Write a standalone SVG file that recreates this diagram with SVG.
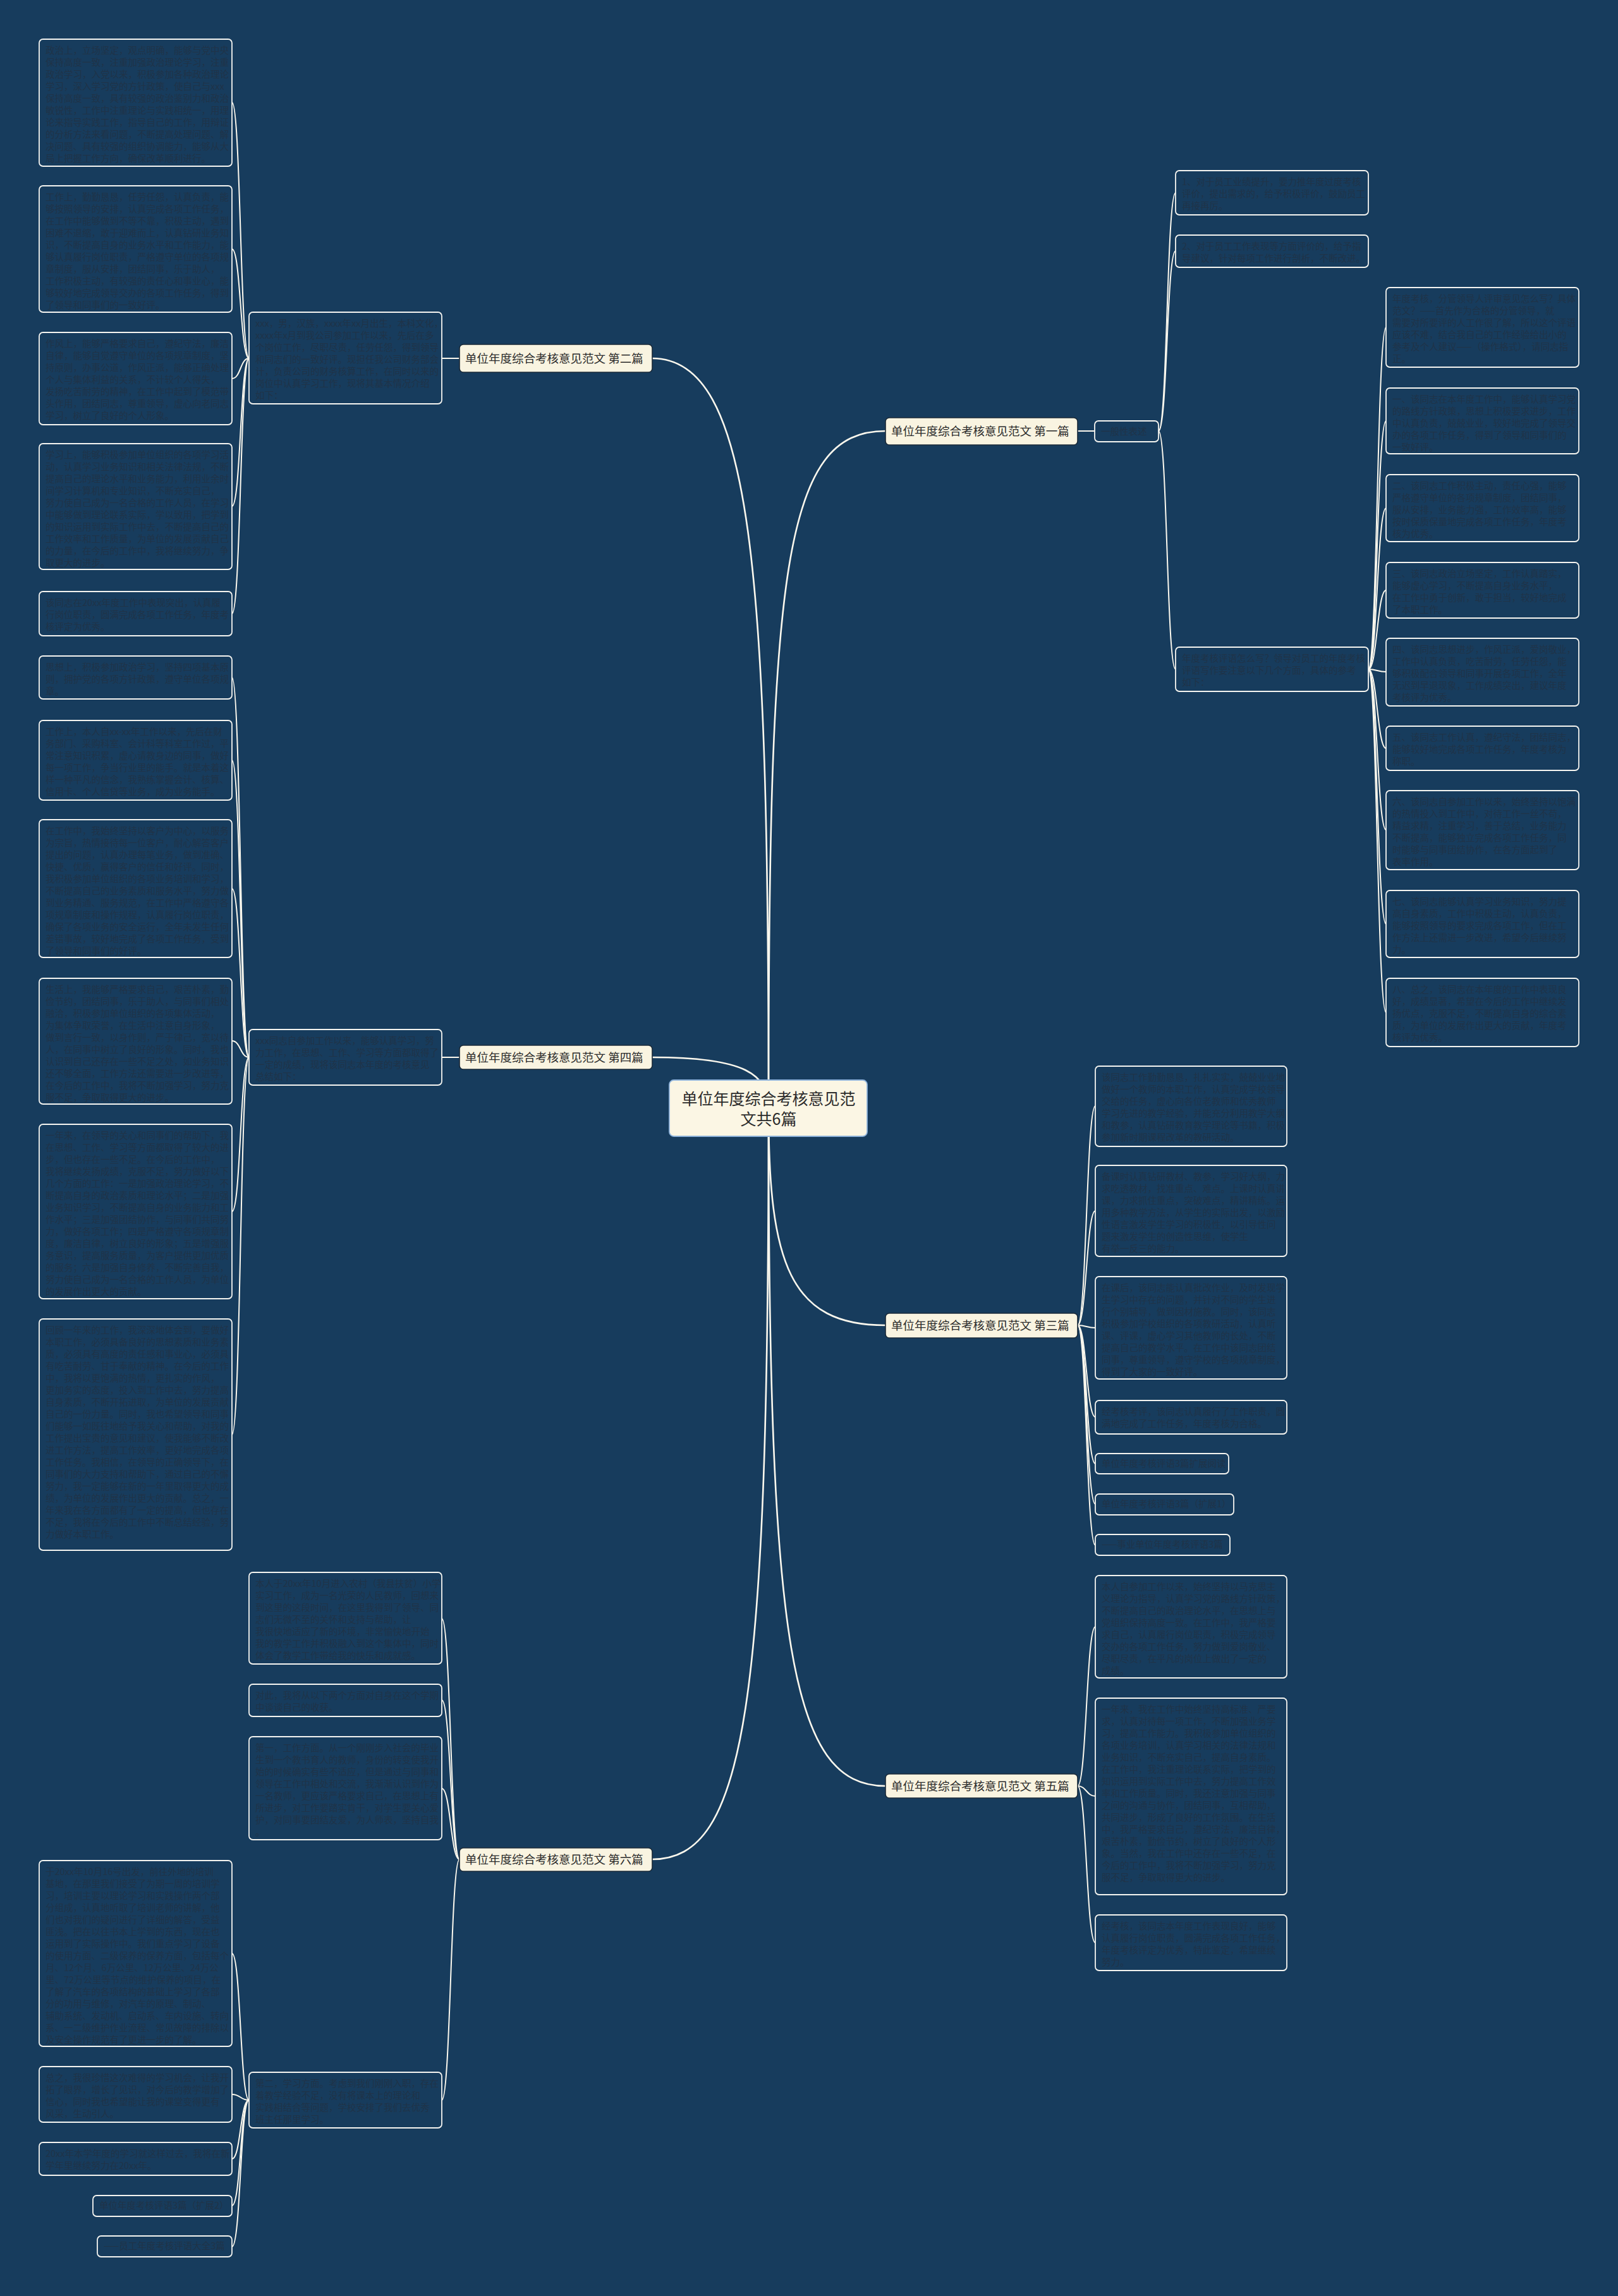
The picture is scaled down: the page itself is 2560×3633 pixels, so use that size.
<svg xmlns="http://www.w3.org/2000/svg" width="2560" height="3633" viewBox="0 0 2560 3633">
<style>
.bg{fill:#173c5d}
.lf{fill:#173c5d;stroke:#f4f4f0;stroke-width:1.8}
.lt{font-family:"Noto Sans CJK SC","Noto Sans",sans-serif;font-size:14.5px;fill:#1f3348}
.br{fill:#f9f4e1;stroke:#1b2a38;stroke-width:1.6}
.bt{font-family:"Noto Sans CJK SC","Noto Sans",sans-serif;font-size:18.5px;fill:#2b2b2b}
.ct{font-family:"Noto Sans CJK SC","Noto Sans",sans-serif;font-size:25px;fill:#2b2b2b;text-anchor:middle}
.mc{fill:none;stroke:#fbf8ee;stroke-width:2.6}
.sc{fill:none;stroke:#fbf8ee;stroke-width:2}
</style>
<rect class="bg" x="0" y="0" width="2560" height="3633"/>
<g id="connectors">
<path class="mc" d="M1216 1754 C1216 900,1190 567,1032 567"/>
<path class="mc" d="M1216 1754 C1216 1700,1180 1673,1032 1673"/>
<path class="mc" d="M1216 1754 C1216 2700,1180 2942,1032 2942"/>
<path class="mc" d="M1216 1754 C1216 900,1240 682,1401 682"/>
<path class="mc" d="M1216 1754 C1216 2000,1250 2097,1401 2097"/>
<path class="mc" d="M1216 1754 C1216 2600,1250 2826,1401 2826"/>
<path class="sc" d="M727 567 L699 567"/>
<path class="sc" d="M394 567 C380 567,381 162,367 162"/>
<path class="sc" d="M394 567 C380 567,381 394,367 394"/>
<path class="sc" d="M394 567 C380 567,381 599,367 599"/>
<path class="sc" d="M394 567 C380 567,381 801,367 801"/>
<path class="sc" d="M394 567 C380 567,381 971,367 971"/>
<path class="sc" d="M727 1673 L699 1673"/>
<path class="sc" d="M394 1673 C380 1673,381 1072,367 1072"/>
<path class="sc" d="M394 1673 C380 1673,381 1203,367 1203"/>
<path class="sc" d="M394 1673 C380 1673,381 1406,367 1406"/>
<path class="sc" d="M394 1673 C380 1673,381 1647,367 1647"/>
<path class="sc" d="M394 1673 C380 1673,381 1917,367 1917"/>
<path class="sc" d="M394 1673 C380 1673,381 2270,367 2270"/>
<path class="sc" d="M727 2942 C713 2942,713 2561,699 2561"/>
<path class="sc" d="M727 2942 C713 2942,713 2690,699 2690"/>
<path class="sc" d="M727 2942 C713 2942,713 2830,699 2830"/>
<path class="sc" d="M727 2942 C713 2942,713 3323,699 3323"/>
<path class="sc" d="M394 3323 C380 3323,381 3091,367 3091"/>
<path class="sc" d="M394 3323 C380 3323,381 3314,367 3314"/>
<path class="sc" d="M394 3323 C380 3323,381 3416,367 3416"/>
<path class="sc" d="M394 3323 C380 3323,381 3490,367 3490"/>
<path class="sc" d="M394 3323 C380 3323,381 3555,367 3555"/>
<path class="sc" d="M1705 682 L1732 682"/>
<path class="sc" d="M1833 682 C1847 682,1846 305,1860 305"/>
<path class="sc" d="M1833 682 C1847 682,1846 397,1860 397"/>
<path class="sc" d="M1833 682 C1847 682,1846 1059,1860 1059"/>
<path class="sc" d="M2165 1059 C2179 1059,2179 518,2193 518"/>
<path class="sc" d="M2165 1059 C2179 1059,2179 666,2193 666"/>
<path class="sc" d="M2165 1059 C2179 1059,2179 804,2193 804"/>
<path class="sc" d="M2165 1059 C2179 1059,2179 934,2193 934"/>
<path class="sc" d="M2165 1059 C2179 1059,2179 1063,2193 1063"/>
<path class="sc" d="M2165 1059 C2179 1059,2179 1184,2193 1184"/>
<path class="sc" d="M2165 1059 C2179 1059,2179 1313,2193 1313"/>
<path class="sc" d="M2165 1059 C2179 1059,2179 1462,2193 1462"/>
<path class="sc" d="M2165 1059 C2179 1059,2179 1602,2193 1602"/>
<path class="sc" d="M1705 2097 C1719 2097,1719 1750,1733 1750"/>
<path class="sc" d="M1705 2097 C1719 2097,1719 1916,1733 1916"/>
<path class="sc" d="M1705 2097 C1719 2097,1719 2101,1733 2101"/>
<path class="sc" d="M1705 2097 C1719 2097,1719 2242,1733 2242"/>
<path class="sc" d="M1705 2097 C1719 2097,1719 2316,1733 2316"/>
<path class="sc" d="M1705 2097 C1719 2097,1719 2380,1733 2380"/>
<path class="sc" d="M1705 2097 C1719 2097,1719 2445,1733 2445"/>
<path class="sc" d="M1705 2826 C1719 2826,1719 2574,1733 2574"/>
<path class="sc" d="M1705 2826 C1719 2826,1719 2842,1733 2842"/>
<path class="sc" d="M1705 2826 C1719 2826,1719 3074,1733 3074"/>
</g>
<g id="center">
<rect x="1059" y="1709" width="313" height="89" rx="7" fill="#fbf6e4" stroke="#8fb4dc" stroke-width="1.8"/>
<text class="ct" x="1216" y="1748">单位年度综合考核意见范</text>
<text class="ct" x="1216" y="1780">文共6篇</text>
</g>
<g id="b2"><rect class="br" x="727" y="545" width="305" height="44" rx="6"/><text class="bt" x="736" y="574">单位年度综合考核意见范文 第二篇</text></g>
<g id="b4"><rect class="br" x="727" y="1654" width="305" height="38" rx="6"/><text class="bt" x="736" y="1680">单位年度综合考核意见范文 第四篇</text></g>
<g id="b6"><rect class="br" x="727" y="2924" width="305" height="37" rx="6"/><text class="bt" x="736" y="2949">单位年度综合考核意见范文 第六篇</text></g>
<g id="b1"><rect class="br" x="1401" y="661" width="304" height="43" rx="6"/><text class="bt" x="1410" y="689">单位年度综合考核意见范文 第一篇</text></g>
<g id="b3"><rect class="br" x="1401" y="2078" width="304" height="39" rx="6"/><text class="bt" x="1410" y="2104">单位年度综合考核意见范文 第三篇</text></g>
<g id="b5"><rect class="br" x="1401" y="2807" width="304" height="38" rx="6"/><text class="bt" x="1410" y="2833">单位年度综合考核意见范文 第五篇</text></g>

<g id="n1s"><rect class="lf" x="1732" y="666" width="101" height="33" rx="6"/><text class="lt" x="1742" y="688">一般性表述</text></g>
<g id="n1a"><rect class="lf" x="1860" y="270" width="305" height="70" rx="6"/><text class="lt" x="1870" y="293"><tspan x="1870">1、对于员工业绩提升，要力推年度过度考核</tspan><tspan x="1870" dy="19">评价，提出需求的，给予积极评价，鼓励员工</tspan><tspan x="1870" dy="19">再接再厉。</tspan></text></g>
<g id="n1b"><rect class="lf" x="1860" y="372" width="305" height="51" rx="6"/><text class="lt" x="1870" y="395"><tspan x="1870">2、对于员工工作表现等方面评价的，给予指</tspan><tspan x="1870" dy="19">导建议，针对每项工作进行剖析，不断改进。</tspan></text></g>
<g id="n1c"><rect class="lf" x="1860" y="1024" width="305" height="70" rx="6"/><text class="lt" x="1870" y="1047"><tspan x="1870">年度考核评语怎么写？领导对员工的年度考核</tspan><tspan x="1870" dy="19">评语写作要注意以下几个方面，具体的参考</tspan><tspan x="1870" dy="19">如下：</tspan></text></g>
<g id="n1c1"><rect class="lf" x="2193" y="455" width="305" height="126" rx="6"/><text class="lt" x="2203" y="478"><tspan x="2203">年度考核，分管领导人评审意见怎么写？具体</tspan><tspan x="2203" dy="19">范文？——首先作为合格的分管领导，就</tspan><tspan x="2203" dy="19">需要对所要评的人工作很了解，所以这个评语</tspan><tspan x="2203" dy="19">应该不难，结合我自己的工作经验给出小的</tspan><tspan x="2203" dy="19">参考及个人建议——（操作格式），请同志指</tspan><tspan x="2203" dy="19">正。</tspan></text></g>
<g id="n1c2"><rect class="lf" x="2193" y="614" width="305" height="104" rx="6"/><text class="lt" x="2203" y="637"><tspan x="2203">一、该同志在本年度工作中，能够认真学习党</tspan><tspan x="2203" dy="19">的路线方针政策，思想上积极要求进步，工作</tspan><tspan x="2203" dy="19">中认真负责，兢兢业业，较好地完成了领导交</tspan><tspan x="2203" dy="19">办的各项工作任务，得到了领导和同事们的</tspan><tspan x="2203" dy="19">一致好评。</tspan></text></g>
<g id="n1c3"><rect class="lf" x="2193" y="751" width="305" height="106" rx="6"/><text class="lt" x="2203" y="774"><tspan x="2203">二、该同志工作积极主动，责任心强，能够</tspan><tspan x="2203" dy="19">严格遵守单位的各项规章制度，团结同事，</tspan><tspan x="2203" dy="19">服从安排，业务能力强，工作效率高，能够</tspan><tspan x="2203" dy="19">按时保质保量地完成各项工作任务，年度考</tspan><tspan x="2203" dy="19">核为优秀。</tspan></text></g>
<g id="n1c4"><rect class="lf" x="2193" y="890" width="305" height="88" rx="6"/><text class="lt" x="2203" y="913"><tspan x="2203">三、该同志政治立场坚定，工作认真踏实，</tspan><tspan x="2203" dy="19">能够虚心学习，不断提高自身业务水平，</tspan><tspan x="2203" dy="19">在工作中勇于创新，敢于担当，较好地完成</tspan><tspan x="2203" dy="19">了本职工作。</tspan></text></g>
<g id="n1c5"><rect class="lf" x="2193" y="1010" width="305" height="107" rx="6"/><text class="lt" x="2203" y="1033"><tspan x="2203">四、该同志思想进步，作风正派，爱岗敬业，</tspan><tspan x="2203" dy="19">工作中认真负责，吃苦耐劳，任劳任怨，能</tspan><tspan x="2203" dy="19">够积极配合领导和同事开展各项工作，全年</tspan><tspan x="2203" dy="19">无迟到早退现象，工作成绩突出，建议年度</tspan><tspan x="2203" dy="19">考核评为优秀。</tspan></text></g>
<g id="n1c6"><rect class="lf" x="2193" y="1149" width="305" height="70" rx="6"/><text class="lt" x="2203" y="1172"><tspan x="2203">五、该同志工作认真，遵纪守法，团结同志，</tspan><tspan x="2203" dy="19">能够较好地完成各项工作任务，年度考核为</tspan><tspan x="2203" dy="19">称职。</tspan></text></g>
<g id="n1c7"><rect class="lf" x="2193" y="1251" width="305" height="125" rx="6"/><text class="lt" x="2203" y="1274"><tspan x="2203">六、该同志自参加工作以来，始终坚持以饱满</tspan><tspan x="2203" dy="19">的热情投入到工作中，对待工作一丝不苟，</tspan><tspan x="2203" dy="19">精益求精，注重学习，善于总结，业务能力</tspan><tspan x="2203" dy="19">不断提高，能够独立完成各项工作任务，同</tspan><tspan x="2203" dy="19">时能够与同事团结协作，在各方面起到了</tspan><tspan x="2203" dy="19">表率作用。</tspan></text></g>
<g id="n1c8"><rect class="lf" x="2193" y="1409" width="305" height="106" rx="6"/><text class="lt" x="2203" y="1432"><tspan x="2203">七、该同志能够认真学习业务知识，努力提</tspan><tspan x="2203" dy="19">高自身素质，工作中积极主动，认真负责，</tspan><tspan x="2203" dy="19">能够按照领导的要求完成各项工作，但在工</tspan><tspan x="2203" dy="19">作方法上还需进一步改进，希望今后继续努</tspan><tspan x="2203" dy="19">力。</tspan></text></g>
<g id="n1c9"><rect class="lf" x="2193" y="1548" width="305" height="108" rx="6"/><text class="lt" x="2203" y="1571"><tspan x="2203">八、总之，该同志在本年度的工作中表现良</tspan><tspan x="2203" dy="19">好，成绩显著，希望在今后的工作中继续发</tspan><tspan x="2203" dy="19">扬优点，克服不足，不断提高自身的综合素</tspan><tspan x="2203" dy="19">质，为单位的发展作出更大的贡献，年度考</tspan><tspan x="2203" dy="19">核评为优秀。</tspan></text></g>

<g id="n3a"><rect class="lf" x="1733" y="1687" width="303" height="127" rx="6"/><text class="lt" x="1743" y="1710"><tspan x="1743">该同志工作勤勤恳恳，扎扎实实，兢兢业业地</tspan><tspan x="1743" dy="19">做好一个教师的本职工作，认真完成学校领导</tspan><tspan x="1743" dy="19">交给的任务，虚心向各位老教师和优秀教师</tspan><tspan x="1743" dy="19">学习先进的教学经验，并能充分利用教学大纲</tspan><tspan x="1743" dy="19">和教参，认真钻研教育教学理论等书籍，积极</tspan><tspan x="1743" dy="19">参加新时期课程改革的教研活动。</tspan></text></g>
<g id="n3b"><rect class="lf" x="1733" y="1844" width="303" height="144" rx="6"/><text class="lt" x="1743" y="1867"><tspan x="1743">备课时认真钻研教材、教参，学习好大纲，力</tspan><tspan x="1743" dy="19">求吃透教材，找准重点、难点。上课时认真讲</tspan><tspan x="1743" dy="19">课，力求抓住重点，突破难点，精讲精练。运</tspan><tspan x="1743" dy="19">用多种教学方法，从学生的实际出发，以激励</tspan><tspan x="1743" dy="19">性语言激发学生学习的积极性，以引导性问</tspan><tspan x="1743" dy="19">题来激发学生的创造性思维，使学生</tspan><tspan x="1743" dy="19">有举一反三的能力。</tspan></text></g>
<g id="n3c"><rect class="lf" x="1733" y="2020" width="303" height="162" rx="6"/><text class="lt" x="1743" y="2043"><tspan x="1743">在课后，该同志能认真批改作业，及时发现学</tspan><tspan x="1743" dy="19">生学习中存在的问题，并针对不同的学生进</tspan><tspan x="1743" dy="19">行个别辅导，做到因材施教。同时，该同志</tspan><tspan x="1743" dy="19">积极参加学校组织的各项教研活动，认真听</tspan><tspan x="1743" dy="19">课、评课，虚心学习其他教师的长处，不断</tspan><tspan x="1743" dy="19">提高自己的教学水平。在工作中该同志团结</tspan><tspan x="1743" dy="19">同事，尊重领导，遵守学校的各项规章制度，</tspan><tspan x="1743" dy="19">得到了大家的一致好评。</tspan></text></g>
<g id="n3d"><rect class="lf" x="1733" y="2216" width="303" height="53" rx="6"/><text class="lt" x="1743" y="2239"><tspan x="1743">经考核考评，该同志认真履行了工作职责，圆</tspan><tspan x="1743" dy="19">满地完成了工作任务，年度考核为合格。</tspan></text></g>
<g id="n3e"><rect class="lf" x="1733" y="2300" width="211" height="32" rx="6"/><text class="lt" x="1743" y="2321">单位年度考核评语3篇扩展阅读</text></g>
<g id="n3f"><rect class="lf" x="1733" y="2364" width="219" height="33" rx="6"/><text class="lt" x="1743" y="2385">单位年度考核评语3篇（扩展1）</text></g>
<g id="n3g"><rect class="lf" x="1733" y="2428" width="213" height="33" rx="6"/><text class="lt" x="1743" y="2449">——事业单位年度考核评语3篇</text></g>

<g id="n5a"><rect class="lf" x="1733" y="2493" width="303" height="162" rx="6"/><text class="lt" x="1743" y="2516"><tspan x="1743">本人自参加工作以来，始终坚持以马克思主</tspan><tspan x="1743" dy="19">义理论为指导，认真学习党的路线方针政策，</tspan><tspan x="1743" dy="19">不断提高自己的政治理论水平，在思想上与</tspan><tspan x="1743" dy="19">党组织保持高度一致。在工作中，我严格要</tspan><tspan x="1743" dy="19">求自己，认真履行岗位职责，积极完成领导</tspan><tspan x="1743" dy="19">交办的各项工作任务，努力做到爱岗敬业、</tspan><tspan x="1743" dy="19">尽职尽责，在平凡的岗位上做出了一定的</tspan><tspan x="1743" dy="19">成绩。</tspan></text></g>
<g id="n5b"><rect class="lf" x="1733" y="2687" width="303" height="311" rx="6"/><text class="lt" x="1743" y="2710"><tspan x="1743">一年来，我在工作中始终坚持高标准、严要</tspan><tspan x="1743" dy="19">求，认真对待每一项工作，不断加强业务学</tspan><tspan x="1743" dy="19">习，提高工作能力。我积极参加单位组织的</tspan><tspan x="1743" dy="19">各项业务培训，认真学习相关的法律法规和</tspan><tspan x="1743" dy="19">业务知识，不断充实自己，提高自身素质。</tspan><tspan x="1743" dy="19">在工作中，我注重理论联系实际，把学到的</tspan><tspan x="1743" dy="19">知识运用到实际工作中去，努力提高工作效</tspan><tspan x="1743" dy="19">率和工作质量。同时，我还注意加强与同事</tspan><tspan x="1743" dy="19">之间的沟通与协作，团结同事，互相帮助，</tspan><tspan x="1743" dy="19">共同进步，形成了良好的工作氛围。在生活</tspan><tspan x="1743" dy="19">中，我严格要求自己，遵纪守法，廉洁自律，</tspan><tspan x="1743" dy="19">艰苦朴素，勤俭节约，树立了良好的个人形</tspan><tspan x="1743" dy="19">象。当然，我在工作中还存在一些不足，在</tspan><tspan x="1743" dy="19">今后的工作中，我将不断加强学习，努力克</tspan><tspan x="1743" dy="19">服不足，争取取得更大的进步。</tspan></text></g>
<g id="n5c"><rect class="lf" x="1733" y="3030" width="303" height="88" rx="6"/><text class="lt" x="1743" y="3053"><tspan x="1743">经考核，该同志本年度工作表现良好，能够</tspan><tspan x="1743" dy="19">认真履行岗位职责，圆满完成各项工作任务，</tspan><tspan x="1743" dy="19">年度考核评定为优秀，特此鉴定，希望继续</tspan><tspan x="1743" dy="19">努力。</tspan></text></g>

<g id="n2s"><rect class="lf" x="394" y="494" width="305" height="145" rx="6"/><text class="lt" x="404" y="517"><tspan x="404">xxx，男，汉族，xxxx年xx月出生，本科文化，</tspan><tspan x="404" dy="19">xxxx年x月到我公司参加工作以来，先后在多</tspan><tspan x="404" dy="19">个岗位工作，尽职尽责，任劳任怨，得到领导</tspan><tspan x="404" dy="19">和同志们的一致好评。现担任我公司财务部会</tspan><tspan x="404" dy="19">计，负责公司的财务核算工作，在同时以来的</tspan><tspan x="404" dy="19">岗位中认真学习工作，现将其基本情况介绍</tspan><tspan x="404" dy="19">如下：</tspan></text></g>
<g id="n2a"><rect class="lf" x="62" y="62" width="305" height="201" rx="6"/><text class="lt" x="72" y="85"><tspan x="72">政治上，立场坚定，观点明确，能够与党中央</tspan><tspan x="72" dy="19">保持高度一致，注重加强政治理论学习，注重</tspan><tspan x="72" dy="19">政治学习，入党以来，积极参加各种政治理论</tspan><tspan x="72" dy="19">学习，深入学习党的方针政策，使自己与xxx</tspan><tspan x="72" dy="19">保持高度一致，具有较强的政治鉴别力和政治</tspan><tspan x="72" dy="19">敏锐性，工作中注重理论与实践相统一，用理</tspan><tspan x="72" dy="19">论来指导实践工作，指导自己的工作，用辩证</tspan><tspan x="72" dy="19">的分析方法来看问题，不断提高处理问题、解</tspan><tspan x="72" dy="19">决问题、具有较强的组织协调能力，能够从大</tspan><tspan x="72" dy="19">局上把握工作方向，确保改革顺利进行。</tspan></text></g>
<g id="n2b"><rect class="lf" x="62" y="294" width="305" height="200" rx="6"/><text class="lt" x="72" y="317"><tspan x="72">工作上，勤勤恳恳，任劳任怨，认真负责，能</tspan><tspan x="72" dy="19">够按照领导的安排，认真完成各项工作任务，</tspan><tspan x="72" dy="19">在工作中能够做到不等不靠，积极主动，遇到</tspan><tspan x="72" dy="19">困难不退缩，敢于迎难而上，认真钻研业务知</tspan><tspan x="72" dy="19">识，不断提高自身的业务水平和工作能力，能</tspan><tspan x="72" dy="19">够认真履行岗位职责，严格遵守单位的各项规</tspan><tspan x="72" dy="19">章制度，服从安排，团结同事，乐于助人，</tspan><tspan x="72" dy="19">工作积极主动，有较强的责任心和事业心，能</tspan><tspan x="72" dy="19">够较好地完成领导交办的各项工作任务，得到</tspan><tspan x="72" dy="19">了领导和同事们的一致好评。</tspan></text></g>
<g id="n2c"><rect class="lf" x="62" y="526" width="305" height="146" rx="6"/><text class="lt" x="72" y="549"><tspan x="72">作风上，能够严格要求自己，遵纪守法，廉洁</tspan><tspan x="72" dy="19">自律，能够自觉遵守单位的各项规章制度，坚</tspan><tspan x="72" dy="19">持原则，办事公道，作风正派，能够正确处理</tspan><tspan x="72" dy="19">个人与集体利益的关系，不计较个人得失，</tspan><tspan x="72" dy="19">发扬吃苦耐劳的精神，在工作中起到了模范带</tspan><tspan x="72" dy="19">头作用，团结同志，尊重领导，虚心向老同志</tspan><tspan x="72" dy="19">学习，树立了良好的个人形象。</tspan></text></g>
<g id="n2d"><rect class="lf" x="62" y="702" width="305" height="199" rx="6"/><text class="lt" x="72" y="725"><tspan x="72">学习上，能够积极参加单位组织的各项学习活</tspan><tspan x="72" dy="19">动，认真学习业务知识和相关法律法规，不断</tspan><tspan x="72" dy="19">提高自己的理论水平和业务能力，利用业余时</tspan><tspan x="72" dy="19">间学习计算机和专业知识，不断充实自己，</tspan><tspan x="72" dy="19">努力使自己成为一名合格的工作人员，在学习</tspan><tspan x="72" dy="19">中能够做到理论联系实际，学以致用，把学到</tspan><tspan x="72" dy="19">的知识运用到实际工作中去，不断提高自己的</tspan><tspan x="72" dy="19">工作效率和工作质量，为单位的发展贡献自己</tspan><tspan x="72" dy="19">的力量，在今后的工作中，我将继续努力，争</tspan><tspan x="72" dy="19">取更大的进步。</tspan></text></g>
<g id="n2e"><rect class="lf" x="62" y="936" width="305" height="70" rx="6"/><text class="lt" x="72" y="959"><tspan x="72">该同志在20xx年度工作中表现突出，认真履</tspan><tspan x="72" dy="19">行岗位职责，圆满完成各项工作任务，年度考</tspan><tspan x="72" dy="19">核评定为优秀。</tspan></text></g>

<g id="n4s"><rect class="lf" x="394" y="1629" width="305" height="88" rx="6"/><text class="lt" x="404" y="1652"><tspan x="404">xxx同志自参加工作以来，能够认真学习，努</tspan><tspan x="404" dy="19">力工作，在思想、工作、学习等方面都取得了</tspan><tspan x="404" dy="19">一定的成绩，现将该同志本年度的考核意见</tspan><tspan x="404" dy="19">总结如下：</tspan></text></g>
<g id="n4a"><rect class="lf" x="62" y="1038" width="305" height="68" rx="6"/><text class="lt" x="72" y="1061"><tspan x="72">思想上，积极参加政治学习，坚持四项基本原</tspan><tspan x="72" dy="19">则，拥护党的各项方针政策，遵守单位各项规</tspan><tspan x="72" dy="19">章。</tspan></text></g>
<g id="n4b"><rect class="lf" x="62" y="1140" width="305" height="126" rx="6"/><text class="lt" x="72" y="1163"><tspan x="72">工作上，本人自xx-xx年工作以来，先后在财</tspan><tspan x="72" dy="19">务部门、采购科室、会计科等科室工作过，平</tspan><tspan x="72" dy="19">常注意知识积累，虚心请教身边的同事，做好</tspan><tspan x="72" dy="19">每一项工作，争当行业里的能手。就是本着这</tspan><tspan x="72" dy="19">样一种平凡的信念，我熟练掌握会计、核算、</tspan><tspan x="72" dy="19">信用卡、个人信贷等业务，成为业务能手。</tspan></text></g>
<g id="n4c"><rect class="lf" x="62" y="1297" width="305" height="218" rx="6"/><text class="lt" x="72" y="1320"><tspan x="72">在工作中，我始终坚持以客户为中心，以服务</tspan><tspan x="72" dy="19">为宗旨，热情接待每一位客户，耐心解答客户</tspan><tspan x="72" dy="19">提出的问题，认真办理每笔业务，做到准确、</tspan><tspan x="72" dy="19">快捷、优质，赢得客户的信任和好评。同时，</tspan><tspan x="72" dy="19">我积极参加单位组织的各项业务培训和学习，</tspan><tspan x="72" dy="19">不断提高自己的业务素质和服务水平，努力做</tspan><tspan x="72" dy="19">到业务精通、服务规范，在工作中严格遵守各</tspan><tspan x="72" dy="19">项规章制度和操作规程，认真履行岗位职责，</tspan><tspan x="72" dy="19">确保了各项业务的安全运行，全年未发生任何</tspan><tspan x="72" dy="19">差错事故，较好地完成了各项工作任务，受到</tspan><tspan x="72" dy="19">了领导和同事们的好评。</tspan></text></g>
<g id="n4d"><rect class="lf" x="62" y="1548" width="305" height="199" rx="6"/><text class="lt" x="72" y="1571"><tspan x="72">生活上，我能够严格要求自己，艰苦朴素，勤</tspan><tspan x="72" dy="19">俭节约，团结同事，乐于助人，与同事们相处</tspan><tspan x="72" dy="19">融洽，积极参加单位组织的各项集体活动，</tspan><tspan x="72" dy="19">为集体争取荣誉，在生活中注意自身形象，</tspan><tspan x="72" dy="19">做到言行一致，以身作则，严于律己，宽以待</tspan><tspan x="72" dy="19">人，在同事中树立了良好的形象。同时，我也</tspan><tspan x="72" dy="19">认识到自己还存在一些不足之处，如业务知识</tspan><tspan x="72" dy="19">还不够全面，工作方法还需要进一步改进等，</tspan><tspan x="72" dy="19">在今后的工作中，我将不断加强学习，努力克</tspan><tspan x="72" dy="19">服不足，争取取得更大的进步。</tspan></text></g>
<g id="n4e"><rect class="lf" x="62" y="1779" width="305" height="276" rx="6"/><text class="lt" x="72" y="1802"><tspan x="72">一年来，在领导的关心和同事们的帮助下，我</tspan><tspan x="72" dy="19">在思想、工作、学习等方面都取得了较大的进</tspan><tspan x="72" dy="19">步，但也存在一些不足。在今后的工作中，</tspan><tspan x="72" dy="19">我将继续发扬成绩，克服不足，努力做好以下</tspan><tspan x="72" dy="19">几个方面的工作：一是加强政治理论学习，不</tspan><tspan x="72" dy="19">断提高自身的政治素质和理论水平；二是加强</tspan><tspan x="72" dy="19">业务知识学习，不断提高自身的业务能力和工</tspan><tspan x="72" dy="19">作水平；三是加强团结协作，与同事们共同努</tspan><tspan x="72" dy="19">力，做好各项工作；四是严格遵守各项规章制</tspan><tspan x="72" dy="19">度，廉洁自律，树立良好的形象；五是增强服</tspan><tspan x="72" dy="19">务意识，提高服务质量，为客户提供更加优质</tspan><tspan x="72" dy="19">的服务；六是加强自身修养，不断完善自我，</tspan><tspan x="72" dy="19">努力使自己成为一名合格的工作人员，为单位</tspan><tspan x="72" dy="19">的发展作出更大的贡献。</tspan></text></g>
<g id="n4f"><rect class="lf" x="62" y="2087" width="305" height="366" rx="6"/><text class="lt" x="72" y="2110"><tspan x="72">回顾一年来的工作，我深深地体会到，要做好</tspan><tspan x="72" dy="19">本职工作，必须具备良好的思想素质和业务素</tspan><tspan x="72" dy="19">质，必须具有高度的责任感和事业心，必须具</tspan><tspan x="72" dy="19">有吃苦耐劳、甘于奉献的精神。在今后的工作</tspan><tspan x="72" dy="19">中，我将以更饱满的热情，更扎实的作风，</tspan><tspan x="72" dy="19">更加务实的态度，投入到工作中去，努力提高</tspan><tspan x="72" dy="19">自身素质，不断开拓进取，为单位的发展贡献</tspan><tspan x="72" dy="19">自己的一份力量。同时，我也希望领导和同事</tspan><tspan x="72" dy="19">们能够一如既往地给予我关心和帮助，对我的</tspan><tspan x="72" dy="19">工作提出宝贵的意见和建议，使我能够不断改</tspan><tspan x="72" dy="19">进工作方法，提高工作效率，更好地完成各项</tspan><tspan x="72" dy="19">工作任务。我相信，在领导的正确领导下，在</tspan><tspan x="72" dy="19">同事们的大力支持和帮助下，通过自己的不懈</tspan><tspan x="72" dy="19">努力，我一定能够在新的一年里取得更大的成</tspan><tspan x="72" dy="19">绩，为单位的发展作出更大的贡献。总之，一</tspan><tspan x="72" dy="19">年来我在各方面都有了一定的提高，但也存在</tspan><tspan x="72" dy="19">不足，我将在今后的工作中不断总结经验，努</tspan><tspan x="72" dy="19">力做好本职工作。</tspan></text></g>

<g id="n6a"><rect class="lf" x="394" y="2488" width="305" height="145" rx="6"/><text class="lt" x="404" y="2511"><tspan x="404">本人于20xx年10月进入农村（我县扶贫）小学</tspan><tspan x="404" dy="19">实习工作，成为一名光荣的人民教师，回想来</tspan><tspan x="404" dy="19">到这里的这段时间，在这里我得到了领导、同</tspan><tspan x="404" dy="19">志们无微不至的关怀和支持与帮助，让</tspan><tspan x="404" dy="19">我很快地适应了新的环境，非常愉快地开始</tspan><tspan x="404" dy="19">我的教学工作并积极融入到这个集体中，同时</tspan><tspan x="404" dy="19">体会了教学工作带给我的快乐和成就感。</tspan></text></g>
<g id="n6b"><rect class="lf" x="394" y="2665" width="305" height="51" rx="6"/><text class="lt" x="404" y="2688"><tspan x="404">对此，我将从以下两个方面对自身在这个学期</tspan><tspan x="404" dy="19">中谈谈自己的收获。</tspan></text></g>
<g id="n6c"><rect class="lf" x="394" y="2748" width="305" height="163" rx="6"/><text class="lt" x="404" y="2771"><tspan x="404">第一，工作方面。从一个刚刚步入社会的毕业</tspan><tspan x="404" dy="19">生到一个教书育人的教师，身份的转变使我开</tspan><tspan x="404" dy="19">始的时候确实有些不适应，但是通过与同事和</tspan><tspan x="404" dy="19">领导在工作中相处和交流，我渐渐认识到作为</tspan><tspan x="404" dy="19">一名教师，更应该严格要求自己，在思想上有</tspan><tspan x="404" dy="19">所进步，对工作要踏实肯干，对学生要关心爱</tspan><tspan x="404" dy="19">护，对同事要团结友爱，为人师表，坚持自我</tspan><tspan x="404" dy="19">。</tspan></text></g>
<g id="n6s"><rect class="lf" x="394" y="3279" width="305" height="88" rx="6"/><text class="lt" x="404" y="3302"><tspan x="404">第二，学习方面。考虑到我们刚刚入职，存在</tspan><tspan x="404" dy="19">着教学经验不足，没有将课本上的理论和</tspan><tspan x="404" dy="19">实践相结合等问题，学校安排了我们去优秀</tspan><tspan x="404" dy="19">班主任那里学习。</tspan></text></g>
<g id="n6s1"><rect class="lf" x="62" y="2944" width="305" height="294" rx="6"/><text class="lt" x="72" y="2967"><tspan x="72">于20xx年10月16号出发，前往外地的培训</tspan><tspan x="72" dy="19">基地，在那里我们接受了为期一周的培训学</tspan><tspan x="72" dy="19">习，培训主要以理论学习和实践操作两个部</tspan><tspan x="72" dy="19">分组成，认真地听取了培训老师的讲解，他</tspan><tspan x="72" dy="19">们也对我们的疑问进行了详细的解答，受益</tspan><tspan x="72" dy="19">匪浅。把在以往书本上学到的东西，现在也</tspan><tspan x="72" dy="19">运用到了实际操作中。我们重点学习了设备</tspan><tspan x="72" dy="19">的使用方面、二级保养的保养方面，包括每个</tspan><tspan x="72" dy="19">月、12个月、6万公里、12万公里、24万公</tspan><tspan x="72" dy="19">里、72万公里等节点的维护保养的项目，在</tspan><tspan x="72" dy="19">了解了汽车的各项结构的基础上学习了各部</tspan><tspan x="72" dy="19">分的功用与维修，对汽车的原理、制动、</tspan><tspan x="72" dy="19">辅助系统、发动机、启动系、车内设施、转向</tspan><tspan x="72" dy="19">系、一二级维护作业流程、常见故障的排除以</tspan><tspan x="72" dy="19">及安全操作规范有了更进一步的了解。</tspan></text></g>
<g id="n6s2"><rect class="lf" x="62" y="3270" width="305" height="88" rx="6"/><text class="lt" x="72" y="3293"><tspan x="72">总之，我很珍惜这次难得的学习机会，让我开</tspan><tspan x="72" dy="19">拓了眼界，增长了见识，对今后的教学增加了</tspan><tspan x="72" dy="19">信心，同时我也希望能让我的课堂变得更有</tspan><tspan x="72" dy="19">风采，生动引人。</tspan></text></g>
<g id="n6s3"><rect class="lf" x="62" y="3390" width="305" height="52" rx="6"/><text class="lt" x="72" y="3413"><tspan x="72">20xx年本学年度的学习就这样过去，我将在新</tspan><tspan x="72" dy="19">学年里继续努力在20xx年。</tspan></text></g>
<g id="n6s4"><rect class="lf" x="147" y="3474" width="220" height="33" rx="6"/><text class="lt" x="157" y="3495">单位年度考核评语3篇（扩展2）</text></g>
<g id="n6s5"><rect class="lf" x="154" y="3538" width="213" height="33" rx="6"/><text class="lt" x="164" y="3559">——员工年度考核评语大全3篇</text></g>
</svg>
